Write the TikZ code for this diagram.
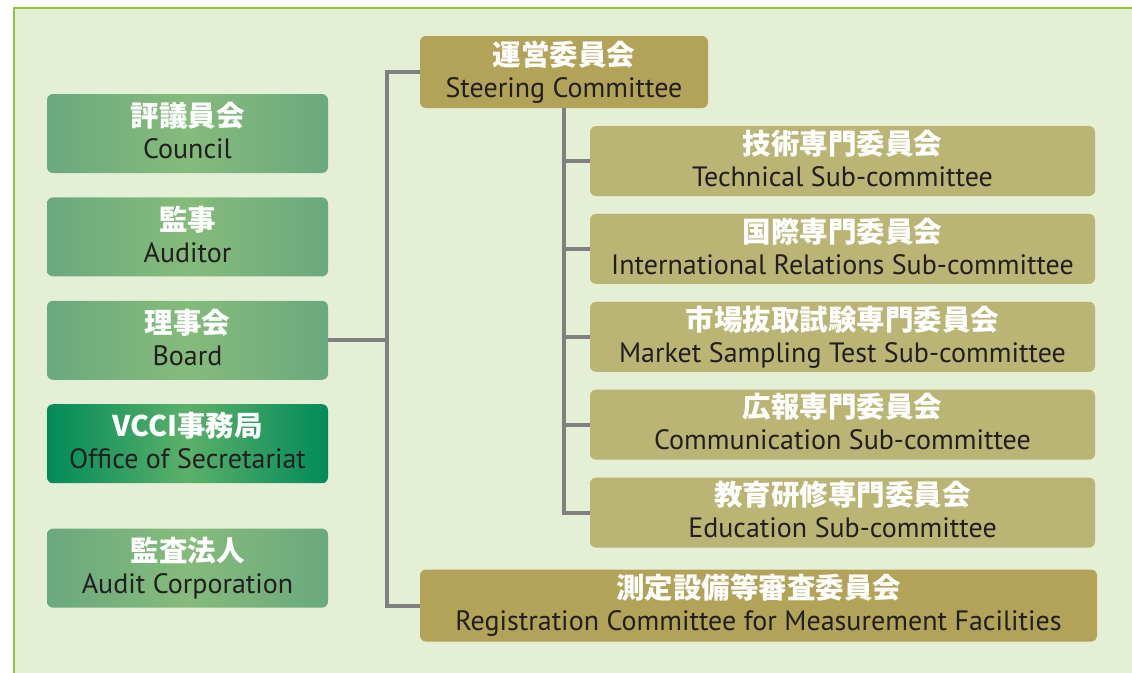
\documentclass[tikz,border=0pt]{standalone}
\usepackage{fontspec}
\setmainfont{PT Sans}
\newfontfamily\cjk{Noto Sans CJK JP}
\usetikzlibrary{positioning}

\begin{document}
\begin{tikzpicture}[x=1pt,y=-1pt]
  % Local definitions
  \def\jp#1{{\cjk\bfseries\fontsize{28.5}{32}\selectfont\color{white}#1\vphantom{会}}}
  \def\en#1{{\color{entext}#1\vphantom{Ag}}}

  % Colors
  \definecolor{panel}{RGB}{229,239,214}
  \definecolor{panelline}{RGB}{141,198,63}
  \definecolor{memberedge}{RGB}{106,169,126}
  \definecolor{membermid}{RGB}{133,187,124}
  \definecolor{officeedge}{RGB}{0,139,89}
  \definecolor{officemid}{RGB}{92,176,106}
  \definecolor{committee}{RGB}{178,163,89}
  \definecolor{subcommittee}{RGB}{186,181,116}
  \definecolor{linkgray}{RGB}{128,128,130}
  \definecolor{entext}{RGB}{35,31,32}

  % Styles
  \tikzstyle{box}=[rounded corners=6pt,inner sep=0pt,align=center,font=\fontsize{28}{32}\selectfont]
  \tikzstyle{member}=[box,minimum width=281pt,minimum height=79pt,left color=memberedge,right color=memberedge,middle color=membermid]
  \tikzstyle{office}=[member,left color=officeedge,right color=officeedge,middle color=officemid]
  \tikzstyle{committee box}=[box,fill=committee,minimum height=72pt]
  \tikzstyle{sub box}=[box,fill=subcommittee,minimum width=505pt,minimum height=70pt]
  \tikzstyle{link}=[draw=linkgray,line width=4pt]

  % The graphic
  \useasboundingbox (0,0) rectangle (1132,672);
  \fill[white] (0,0) rectangle (1132,672);
  \begin{scope}
    \clip (0,0) rectangle (1132,672);
    \draw[fill=panel,draw=panelline,line width=2pt] (14,8) rectangle (1150,690);
  \end{scope}

  % left column
  \node[member] (council) at (187.5,133.5) {\jp{評議員会}\\\en{Council}};
  \node[member,below=24pt of council] (auditor) {\jp{監事}\\\en{Auditor}};
  \node[member,below=24pt of auditor] (board) {\jp{理事会}\\\en{Board}};
  \node[office,below=24pt of board] (secretariat) {\jp{VCCI事務局}\\\en{Office of Secretariat}};
  \node[member,below=45pt of secretariat] (auditcorp) {\jp{監査法人}\\\en{Audit Corporation}};

  % committees
  \node[committee box,minimum width=288pt] (steering) at (564,72) {\jp{運営委員会}\\\en{Steering Committee}};
  \node[sub box] (technical) at (842.5,161) {\jp{技術専門委員会}\\\en{Technical Sub-committee}};
  \node[sub box,below=17.5pt of technical] (international) {\jp{国際専門委員会}\\\en{International Relations Sub-committee}};
  \node[sub box,below=17.5pt of international] (market) {\jp{市場抜取試験専門委員会}\\\en{Market Sampling Test Sub-committee}};
  \node[sub box,below=17.5pt of market] (communication) {\jp{広報専門委員会}\\\en{Communication Sub-committee}};
  \node[sub box,below=17.5pt of communication] (education) {\jp{教育研修専門委員会}\\\en{Education Sub-committee}};
  \node[committee box,minimum width=677pt] (registration) at (758.5,605.5) {\jp{測定設備等審査委員会}\\\en{Registration Committee for Measurement Facilities}};

  % Lines
  \draw[link] (steering.west) -- ++(-33,0) coordinate (trunk) |- (registration.west);
  \draw[link] (board.east) -- (board.east -| trunk);
  \draw[link] (steering.south) |- (education.west);
  \foreach \sub in {technical,international,market,communication}
    \draw[link] (steering.south |- \sub.west) -- (\sub.west);

\end{tikzpicture}
\end{document}
